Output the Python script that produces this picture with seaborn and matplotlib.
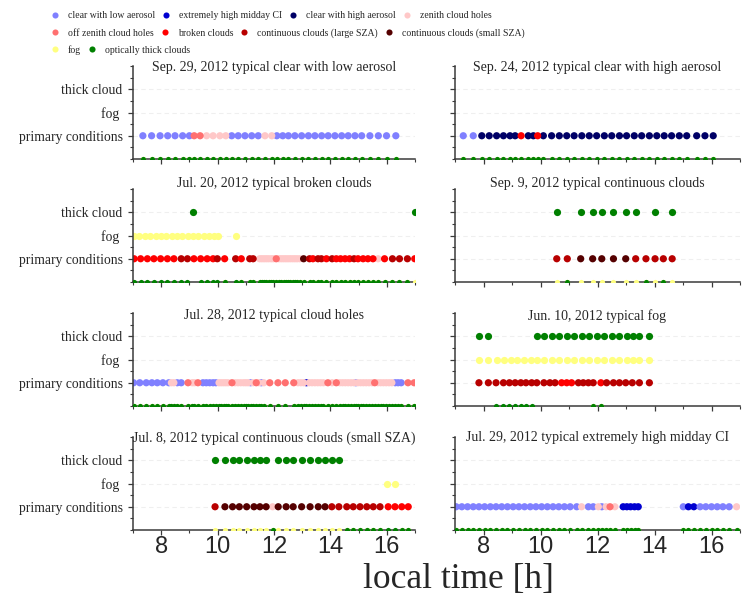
import matplotlib
matplotlib.use("Agg")
import matplotlib.pyplot as plt
import numpy as np
import pandas as pd
import seaborn as sns
from matplotlib.lines import Line2D
from matplotlib.ticker import MultipleLocator, FixedLocator

# ---------------- categories ----------------
CAT_CODES = ["low", "ci", "high", "zen", "off", "brk", "cL", "cS", "fog", "thick"]
CAT_LABELS = ["clear with low aerosol", "extremely high midday CI", "clear with high aerosol",
              "zenith cloud holes", "off zenith cloud holes", "broken clouds",
              "continuous clouds (large SZA)", "continuous clouds (small SZA)",
              "fog", "optically thick clouds"]
CAT_COLORS = ["#8080ff", "#0000d0", "#000066", "#ffc8c8", "#ff7070", "#ff0000",
              "#b80000", "#550000", "#ffff80", "#008000"]

Y_TICK_LABELS = ["primary conditions", "fog ", "thick cloud"]
X_TICKS = [8, 10, 12, 14, 16]

# ---------------- panel 1 : Sep. 29 ----------------
SEP29_TITLE = "Sep. 29, 2012 typical clear with low aerosol"
SEP29_TIMES = [7.35, 7.66, 7.96, 8.23, 8.49, 8.76, 9.0, 9.17, 9.38, 9.61, 9.84, 10.08, 10.29,
               10.5, 10.73, 10.97, 11.21, 11.44, 11.68, 11.92, 12.10, 12.31, 12.51, 12.74,
               12.98, 13.22, 13.45, 13.69, 13.92, 14.16, 14.40, 14.63, 14.87, 15.11, 15.40,
               15.70, 15.99, 16.32]
SEP29_CATS = ["low"] * 7 + ["off"] * 2 + ["zen"] * 4 + ["low"] * 5 + ["zen"] * 2 + ["low"] * 18
SEP29_FOG = []
SEP29_THICK = []

# ---------------- panel 2 : Sep. 24 ----------------
SEP24_TITLE = "Sep. 24, 2012 typical clear with high aerosol"
SEP24_TIMES = [7.29, 7.64, 7.94, 8.2, 8.46, 8.7, 8.93, 9.11, 9.32, 9.57, 9.75, 9.9,
               10.10, 10.39, 10.66, 10.92, 11.18, 11.45, 11.71, 11.97, 12.24, 12.5, 12.77,
               13.02, 13.29, 13.55, 13.82, 14.08, 14.34, 14.6, 14.87, 15.13, 15.48, 15.77, 16.06]
SEP24_CATS = ["low"] * 2 + ["high"] * 6 + ["brk"] + ["high"] * 2 + ["brk"] + ["high"] * 23
SEP24_FOG = []
SEP24_THICK = []

# ---------------- panel 3 : Jul. 20 ----------------
JUL20_TITLE = "Jul. 20, 2012 typical broken clouds"
JUL20_TIMES = [7.04, 7.27, 7.51, 7.74, 7.98, 8.22, 8.45, 8.71, 8.93, 9.16, 9.4, 9.63, 9.84,
               9.99, 10.25, 10.64, 10.84, 11.14, 11.26,
               11.49, 11.57, 11.65, 11.73, 11.81, 11.9, 11.98, 12.08,
               12.18, 12.26, 12.34, 12.42, 12.5, 12.58, 12.66, 12.74, 12.82, 12.91,
               13.05, 13.26, 13.38, 13.56, 13.68, 13.86, 14.06, 14.21, 14.36, 14.52, 14.68,
               14.84, 14.98, 15.16, 15.33, 15.51, 15.69, 15.92, 16.2, 16.45, 16.73, 16.99]
JUL20_CATS = (["brk"] * 7 + ["cL"] * 2 + ["brk"] * 4 + ["cL"] + ["brk"] + ["cL"] + ["brk"]
              + ["cL"] * 2 + ["zen"] * 7 + ["off"] + ["zen"] * 10 + ["cS"] + ["cL"] + ["brk"]
              + ["cL"] * 2 + ["brk"] + ["cL"] + ["brk"] * 4 + ["cL"] + ["brk"] * 4 + ["zen"]
              + ["brk"] + ["cL"] * 3 + ["brk"])
JUL20_FOG = [7.04, 7.23, 7.42, 7.61, 7.80, 7.99, 8.18, 8.37, 8.56, 8.75, 8.94, 9.13, 9.32,
             9.51, 9.70, 9.89, 10.01, 10.64]
JUL20_THICK = [9.12, 17.0]

# ---------------- panel 4 : Sep. 9 ----------------
SEP9_TITLE = "Sep. 9, 2012 typical continuous clouds"
SEP9_TIMES = [10.57, 10.94, 11.41, 11.83, 12.15, 12.56, 12.99, 13.34, 13.7, 14.02, 14.31, 14.62]
SEP9_CATS = ["cL", "cL", "cS", "cS", "cS", "cS", "cS", "cL", "cL", "cL", "cL", "cL"]
SEP9_FOG = []
SEP9_THICK = [10.57, 11.41, 11.83, 12.15, 12.56, 12.99, 13.34, 14.02, 14.62]

# ---------------- panel 5 : Jul. 28 ----------------
JUL28_TITLE = "Jul. 28, 2012 typical cloud holes"
JUL28_TIMES = [7.02, 7.24, 7.47, 7.67, 7.86, 8.06, 8.27, 8.36, 8.45, 8.57, 8.71, 8.95,
               9.1, 9.18, 9.3, 9.48, 9.6, 9.72, 9.84, 9.94,
               10.05, 10.13, 10.21, 10.29, 10.37, 10.51,
               10.62, 10.72, 10.82, 10.92, 11.0, 11.08, 11.17, 11.26, 11.37, 11.46, 11.55, 11.64,
               11.85, 12.14, 12.4, 12.7, 12.85, 12.95, 13.05, 13.15,
               13.25, 13.35, 13.45, 13.55, 13.65, 13.75, 13.91, 14.06, 14.21,
               14.33, 14.43, 14.53, 14.63, 14.73, 14.83, 14.9,
               14.97, 15.07, 15.17, 15.27, 15.37, 15.47, 15.57,
               15.68, 15.78, 15.88, 15.98, 16.08, 16.18, 16.3, 16.4, 16.51, 16.75, 16.97]
JUL28_CATS = (["low"] * 7 + ["zen"] * 2 + ["low"] * 2 + ["off"] + ["zen"] * 2 + ["off"]
              + ["low"] * 5 + ["zen"] * 5 + ["off"] + ["zen"] * 6 + ["low"] + ["zen"] + ["off"]
              + ["zen"] + ["low"] + ["zen"] + ["off"] * 4 + ["zen"] * 3 + ["ci"]
              + ["zen"] * 6 + ["off"] + ["zen"] + ["off"] + ["zen"] * 6 + ["low"]
              + ["zen"] * 6 + ["off"] + ["zen"] * 6 + ["low"] * 3 + ["off"] * 2)
JUL28_FOG = []
JUL28_THICK = []

# ---------------- panel 6 : Jun. 10 ----------------
JUN10_TITLE = "Jun. 10, 2012 typical fog"
JUN10_TIMES = [7.84, 8.17, 8.44, 8.7, 8.91, 9.11, 9.31, 9.49, 9.69, 9.87, 10.12, 10.33, 10.51,
               10.74, 10.92, 11.09, 11.33, 11.5, 11.68, 11.85, 12.12, 12.32, 12.56, 12.77,
               12.99, 13.22, 13.47, 13.82]
JUN10_CATS = (["cL"] * 13 + ["brk"] * 3 + ["cL"] * 4 + ["brk"] + ["cL"] * 7)
JUN10_FOG = [7.84, 8.17, 8.46, 8.72, 8.95, 9.19, 9.42, 9.65, 9.89, 10.12, 10.39, 10.66,
             10.92, 11.18, 11.45, 11.71, 11.97, 12.24, 12.5, 12.77, 13.02, 13.25, 13.47, 13.82]
JUN10_THICK = [7.84, 8.17, 9.87, 10.12, 10.39, 10.66, 10.92, 11.18, 11.45, 11.71, 11.97,
               12.24, 12.5, 12.77, 13.02, 13.25, 13.47, 13.82]

# ---------------- panel 7 : Jul. 8 ----------------
JUL8_TITLE = "Jul. 8, 2012 typical continuous clouds (small SZA)"
JUL8_TIMES = [9.91, 10.26, 10.53, 10.77, 11.03, 11.29, 11.5, 11.72, 11.95, 12.15, 12.43,
              12.68, 12.98, 13.28, 13.57, 13.81, 14.05, 14.3, 14.58, 14.81, 15.05, 15.29,
              15.52, 15.76, 16.05, 16.29, 16.53, 16.76]
JUL8_CATS = (["cL"] + ["cS"] * 7 + ["zen"] + ["cS"] * 7 + ["cL"] * 8 + ["brk"] * 4)
JUL8_FOG = [16.02, 16.29]
JUL8_THICK = [9.91, 10.26, 10.53, 10.77, 11.03, 11.29, 11.5, 11.72, 12.15, 12.43, 12.68,
              12.98, 13.28, 13.57, 13.81, 14.05, 14.3]

# ---------------- panel 8 : Jul. 29 ----------------
JUL29_TITLE = "Jul. 29, 2012 typical extremely high midday CI"
JUL29_TIMES = [7.04, 7.24, 7.44, 7.64, 7.84, 8.04, 8.24, 8.44, 8.64, 8.84, 9.04, 9.24, 9.44,
               9.64, 9.84, 10.04, 10.24, 10.44, 10.64, 10.84, 11.04, 11.27,
               11.44, 11.68, 11.85, 12.03, 12.15, 12.3, 12.44, 12.61,
               12.9, 13.03, 13.16, 13.3, 13.43,
               15.01, 15.19, 15.38, 15.6, 15.8, 16.0, 16.2, 16.4, 16.62, 16.88]
JUL29_CATS = (["low"] * 22 + ["zen", "low", "low", "zen", "low", "zen", "off", "zen"]
              + ["ci"] * 5 + ["low"] + ["ci"] * 2 + ["low"] * 6 + ["zen"])
JUL29_FOG = []
JUL29_THICK = []

PANELS = [
    (SEP29_TITLE, SEP29_TIMES, SEP29_CATS, SEP29_FOG, SEP29_THICK),
    (SEP24_TITLE, SEP24_TIMES, SEP24_CATS, SEP24_FOG, SEP24_THICK),
    (JUL20_TITLE, JUL20_TIMES, JUL20_CATS, JUL20_FOG, JUL20_THICK),
    (SEP9_TITLE, SEP9_TIMES, SEP9_CATS, SEP9_FOG, SEP9_THICK),
    (JUL28_TITLE, JUL28_TIMES, JUL28_CATS, JUL28_FOG, JUL28_THICK),
    (JUN10_TITLE, JUN10_TIMES, JUN10_CATS, JUN10_FOG, JUN10_THICK),
    (JUL8_TITLE, JUL8_TIMES, JUL8_CATS, JUL8_FOG, JUL8_THICK),
    (JUL29_TITLE, JUL29_TIMES, JUL29_CATS, JUL29_FOG, JUL29_THICK),
]

# drawing order of the primary categories (later ones on top)
DRAW_RANK = {"low": 0, "ci": 0, "high": 0, "zen": 1, "off": 2, "brk": 2, "cL": 2, "cS": 2}

# legend rows (flowing horizontally, as in the reference)
LEGEND_ROWS = [["low", "ci", "high", "zen"],
               ["off", "brk", "cL", "cS"],
               ["fog", "thick"]]

# ---------------- style ----------------
sns.set_style("ticks")
plt.rcParams["font.family"] = ["Liberation Serif", "DejaVu Serif"]
PALETTE = dict(zip(CAT_CODES, CAT_COLORS))
LABEL = dict(zip(CAT_CODES, CAT_LABELS))

W, H = 742, 596
fig = plt.figure(figsize=(W / 100, H / 100), dpi=100)

col_x = [(133, 415), (455, 740)]
row_y = [(66, 159), (189, 282), (313, 406), (437, 530)]
title_yc = [67, 184, 316, 438]

SIZE = 27

for i, (title, times, cats, fog, thick) in enumerate(PANELS):
    r, c = divmod(i, 2)
    x0, x1 = col_x[c]
    yt, yb = row_y[r]
    ax = fig.add_axes([x0 / W, 1 - yb / H, (x1 - x0) / W, (yb - yt) / H])

    df = pd.DataFrame({"time": times, "cat": cats})
    df["y"] = 1.0
    df["rank"] = df["cat"].map(DRAW_RANK)
    df = df.sort_values("rank", kind="stable")

    # bottom indicators (absent fog / thick cloud)
    t_arr = np.array(times)
    fog_arr = np.array(fog) if len(fog) else np.array([-99.0])
    thick_arr = np.array(thick) if len(thick) else np.array([-99.0])
    no_fog = t_arr[np.min(np.abs(t_arr[:, None] - fog_arr[None, :]), axis=1) > 0.12]
    no_thick = t_arr[np.min(np.abs(t_arr[:, None] - thick_arr[None, :]), axis=1) > 0.12]
    if len(no_fog):
        sns.scatterplot(x=no_fog, y=np.zeros(len(no_fog)), color=PALETTE["fog"], s=14,
                        linewidth=0, ax=ax, zorder=3, legend=False)
    if len(no_thick):
        sns.scatterplot(x=no_thick, y=np.zeros(len(no_thick)), color=PALETTE["thick"], s=14,
                        linewidth=0, ax=ax, zorder=3, legend=False)

    sns.scatterplot(data=df, x="time", y="y", hue="cat", palette=PALETTE, s=SIZE,
                    linewidth=0, ax=ax, legend=False, zorder=2)
    if len(fog):
        sns.scatterplot(x=fog, y=[2.0] * len(fog), color=PALETTE["fog"], s=SIZE,
                        linewidth=0, ax=ax, legend=False, zorder=2)
    if len(thick):
        sns.scatterplot(x=thick, y=[3.0] * len(thick), color=PALETTE["thick"], s=SIZE,
                        linewidth=0, ax=ax, legend=False, zorder=2)

    ax.set_xlim(7, 17)
    ax.set_ylim(0, 4)
    ax.set_xlabel("")
    ax.set_ylabel("")
    ax.xaxis.set_major_locator(FixedLocator(X_TICKS))
    ax.xaxis.set_minor_locator(MultipleLocator(1))
    ax.yaxis.set_major_locator(FixedLocator([1, 2, 3]))
    ax.yaxis.set_minor_locator(MultipleLocator(0.5))
    ax.grid(axis="y", which="major", ls=(0, (4, 3)), color="#efefef", lw=0.8)
    ax.set_axisbelow(True)
    for side in ["top", "right"]:
        ax.spines[side].set_visible(False)
    for side in ["left", "bottom"]:
        ax.spines[side].set_color("#3a3a3a")
        ax.spines[side].set_linewidth(1.1)
    ax.tick_params(which="major", length=3.5, width=0.9, color="#3a3a3a")
    ax.tick_params(which="minor", length=2.2, width=0.8, color="#3a3a3a")
    if c == 0:
        ax.set_yticklabels(Y_TICK_LABELS, fontsize=9.8)
        ax.tick_params(axis="y", pad=4)
    else:
        ax.set_yticklabels([])
    if r == 3:
        ax.set_xticklabels([str(v) for v in X_TICKS], fontsize=17,
                           family=["Liberation Sans", "DejaVu Sans"])
        ax.tick_params(axis="x", pad=1)
    else:
        ax.set_xticklabels([])

    fig.text((x0 + x1) / 2 / W, 1 - title_yc[r] / H, title, ha="center", va="center",
             fontsize=10)

# legend: one horizontal row per legend object
LEG_FS = 7.0
row_centers = [16, 33, 50]
for keys, yc in zip(LEGEND_ROWS, row_centers):
    handles = [Line2D([], [], ls="", marker="o", markersize=4.4, markeredgewidth=0,
                      color=PALETTE[k]) for k in keys]
    labels = [LABEL[k] for k in keys]
    fig.legend(handles, labels, ncol=len(keys), loc="center left",
               bbox_to_anchor=(51 / W, 1 - yc / H), frameon=False, fontsize=LEG_FS,
               handletextpad=0.94, columnspacing=0.73, borderaxespad=0, borderpad=0,
               handlelength=0.8)

fig.text(458 / W, 1 - 588 / H, "local time [h]", ha="center", va="baseline", fontsize=25.5)

fig.savefig("out.png", dpi=100)
